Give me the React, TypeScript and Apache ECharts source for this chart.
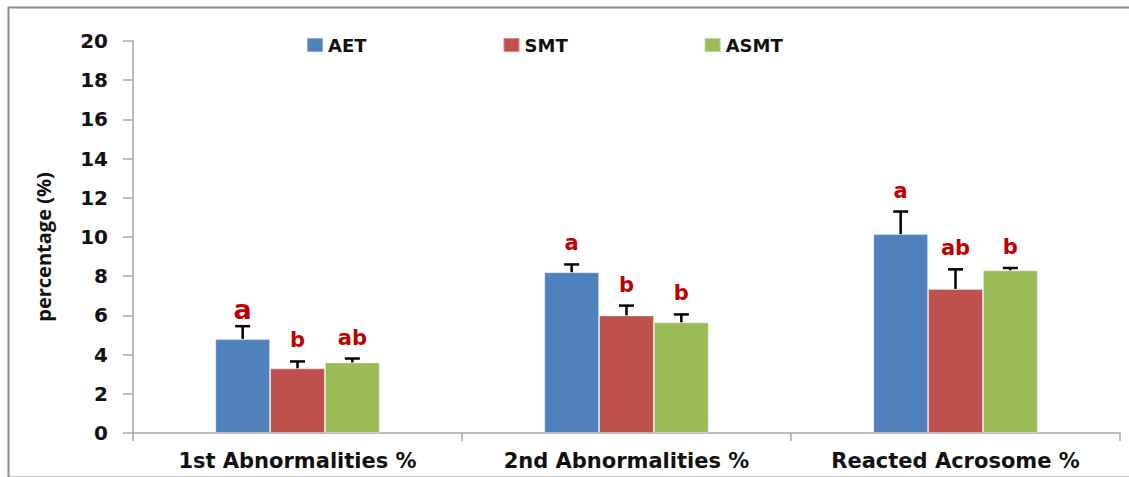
import React, { useEffect, useRef } from "react";
import * as echarts from "echarts";

// Categories and group means with their upward error (SE) and significance letters
const categories = ["1st Abnormalities %", "2nd Abnormalities %", "Reacted Acrosome %"];
const seriesNames = ["AET", "SMT", "ASMT"];
const aetValues = [4.8, 8.2, 10.15];
const aetErrors = [0.65, 0.4, 1.15];
const smtValues = [3.3, 6.0, 7.35];
const smtErrors = [0.35, 0.5, 1.0];
const asmtValues = [3.6, 5.65, 8.3];
const asmtErrors = [0.2, 0.4, 0.12];
const aetLetters = ["a", "a", "a"];
const smtLetters = ["b", "b", "ab"];
const asmtLetters = ["ab", "b", "b"];
const yTicks = [0, 2, 4, 6, 8, 10, 12, 14, 16, 18, 20];

const colors = ["#4F81BD", "#C0504D", "#9BBB59"];
const FONT = "'DejaVu Sans', Verdana, sans-serif";

export default function App() {
  const ref = useRef<HTMLDivElement>(null);

  useEffect(() => {
    document.body.style.margin = "0";
    if (!ref.current) return;
    const chart = echarts.init(ref.current, undefined, { renderer: "svg" });

    const groups = [
      { values: aetValues, errors: aetErrors, letters: aetLetters },
      { values: smtValues, errors: smtErrors, letters: smtLetters },
      { values: asmtValues, errors: asmtErrors, letters: asmtLetters },
    ];

    const bars = groups.map((g, si) => ({
      name: seriesNames[si],
      type: "bar",
      data: g.values,
      barGap: "0%",
      barCategoryGap: "50%",
      itemStyle: { color: colors[si], borderColor: "rgba(255,255,255,0.35)", borderWidth: 1 },
      z: 2,
    }));

    const errorSeries = groups.map((g, si) => ({
      name: seriesNames[si] + " error",
      type: "custom",
      z: 5,
      encode: { x: 0, y: 1 },
      data: categories.map((_, i) => [i, g.values[i], g.errors[i]]),
      renderItem: (params: any, api: any) => {
        const cat = api.value(0);
        const v = api.value(1);
        const e = api.value(2);
        const band = api.size([1, 0])[0];
        const bw = (band * 0.5) / 3;
        const base = api.coord([cat, v]);
        const top = api.coord([cat, v + e]);
        const x = base[0] + (si - 1) * bw;
        const big = si === 0 && params.dataIndex === 0;
        const letter = g.letters[params.dataIndex];
        return {
          type: "group",
          children: [
            {
              type: "line",
              shape: { x1: x, y1: base[1], x2: x, y2: top[1] },
              style: { stroke: "#000", lineWidth: 2.5 },
            },
            {
              type: "line",
              shape: { x1: x - 7.5, y1: top[1], x2: x + 7.5, y2: top[1] },
              style: { stroke: "#000", lineWidth: 2.5 },
            },
            {
              type: "text",
              style: {
                text: letter,
                x: x,
                y: top[1] - (big ? 17 : 21),
                align: "center",
                verticalAlign: "middle",
                fill: "#C00000",
                fontFamily: FONT,
                fontWeight: "bold",
                fontSize: big ? 27 : 21,
              },
            },
          ],
        };
      },
    }));

    chart.setOption({
      animation: false,
      backgroundColor: "#fff",
      grid: { left: 133, right: 9, top: 41, bottom: 44 },
      legend: {
        data: seriesNames,
        left: 301,
        top: 31,
        icon: "rect",
        itemWidth: 16,
        itemHeight: 14,
        itemGap: 136,
        textStyle: { fontFamily: FONT, fontWeight: "bold", fontSize: 18, color: "#111" },
      },
      xAxis: {
        type: "category",
        data: categories,
        axisLine: { lineStyle: { color: "#A6A6A6", width: 1.5 } },
        axisTick: { show: true, length: 8, lineStyle: { color: "#A6A6A6", width: 1.5 } },
        axisLabel: { margin: 17, fontFamily: FONT, fontWeight: "bold", fontSize: 21, color: "#111" },
      },
      yAxis: {
        type: "value",
        min: yTicks[0],
        max: yTicks[yTicks.length - 1],
        interval: yTicks[1] - yTicks[0],
        name: "percentage (%)",
        nameLocation: "middle",
        nameGap: 80,
        nameTextStyle: {
          fontFamily: "'Liberation Sans Narrow', 'Open Sans', sans-serif",
          fontWeight: "bold",
          fontSize: 20,
          color: "#111",
          padding: [0, 20, 0, 0],
        },
        axisLine: { show: true, lineStyle: { color: "#A6A6A6", width: 1.5 } },
        axisTick: { show: true, length: 10, lineStyle: { color: "#A6A6A6", width: 1.5 } },
        splitLine: { show: false },
        axisLabel: { margin: 25, fontFamily: FONT, fontWeight: "bold", fontSize: 20, color: "#111" },
      },
      graphic: [
        {
          type: "rect",
          left: 6,
          top: 5,
          shape: { width: 1200, height: 470 },
          style: { fill: "none", stroke: "#8C8C8C", lineWidth: 2 },
          silent: true,
        },
      ],
      series: [...bars, ...errorSeries],
    });

    return () => chart.dispose();
  }, []);

  return <div ref={ref} style={{ width: 1129, height: 477 }} />;
}
